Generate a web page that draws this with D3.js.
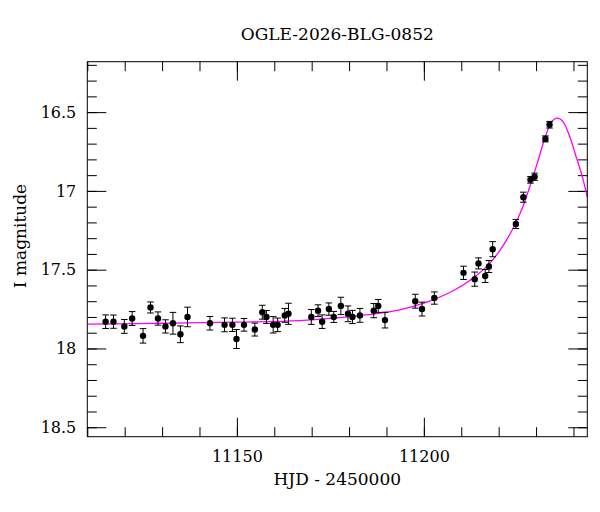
<!DOCTYPE html>
<html lang="en">
<head>
    <meta charset="UTF-8">
    <title>OGLE-2026-BLG-0852</title>
    <script src="https://d3js.org/d3.v7.min.js"></script>
    <style>
        body { margin: 0; background: #fff; }
        text { font-family: "DejaVu Serif", serif; fill: #000; }
        .tick line { stroke: #000; stroke-width: 1px; }
        .axis path.domain { display: none; }
        .frame { fill: none; stroke: #000; stroke-width: 1px; }
        .model { fill: none; stroke: #ff00ff; stroke-width: 1.3px; }
        .err { stroke: #000; stroke-width: 1px; }
    </style>
</head>
<body>
    <div id="chart"></div>
    <script>
        // photometry (HJD - 2450000, I mag, error)
        const days = [11114.9, 11117.0, 11119.9, 11122.0, 11124.9, 11126.9, 11128.9, 11130.9, 11132.9, 11134.9,
            11136.8, 11142.8, 11146.7, 11148.8, 11149.9, 11151.9, 11154.8, 11156.8, 11157.9, 11159.7,
            11160.9, 11162.8, 11163.8, 11169.9, 11171.7, 11172.8, 11174.6, 11175.9, 11177.8, 11179.7,
            11180.9, 11182.9, 11186.6, 11187.8, 11189.6, 11197.7, 11199.5, 11202.8, 11210.6, 11213.6,
            11214.6, 11216.4, 11217.4, 11218.4, 11224.6, 11226.6, 11228.5, 11229.6, 11232.5, 11233.6];
        const mags = [17.83, 17.83, 17.86, 17.81, 17.92, 17.74, 17.81, 17.86, 17.84, 17.91,
            17.80, 17.84, 17.85, 17.85, 17.94, 17.85, 17.88, 17.77, 17.80, 17.85,
            17.85, 17.79, 17.78, 17.80, 17.76, 17.83, 17.75, 17.80, 17.73, 17.78,
            17.80, 17.79, 17.76, 17.73, 17.82, 17.70, 17.75, 17.68, 17.52, 17.56,
            17.46, 17.54, 17.48, 17.37, 17.21, 17.04, 16.93, 16.91, 16.67, 16.58];
        const errs = [0.043, 0.042, 0.044, 0.044, 0.046, 0.035, 0.042, 0.042, 0.069, 0.053,
            0.062, 0.043, 0.044, 0.042, 0.060, 0.040, 0.041, 0.044, 0.041, 0.052,
            0.043, 0.044, 0.067, 0.047, 0.037, 0.043, 0.039, 0.035, 0.055, 0.050,
            0.042, 0.044, 0.045, 0.041, 0.050, 0.044, 0.044, 0.039, 0.042, 0.045,
            0.035, 0.041, 0.038, 0.048, 0.029, 0.032, 0.021, 0.023, 0.019, 0.021];

        // model light curve
        const modelDays = [11110, 11130, 11150, 11166.8, 11175.7, 11184.6, 11193.5, 11201.5, 11206.9, 11212.2,
            11217.6, 11221.1, 11223.8, 11226.3, 11228.5, 11230.5, 11232.7, 11234.1, 11235.6, 11237.2,
            11239.0, 11240.8, 11242.6, 11243.7];
        const modelMags = [17.846, 17.840, 17.833, 17.823, 17.808, 17.787, 17.755, 17.70, 17.645, 17.57,
            17.46, 17.35, 17.24, 17.11, 16.96, 16.81, 16.64, 16.565, 16.538, 16.56,
            16.655, 16.79, 16.93, 17.04];

        const xMajor = [11150, 11200];
        const xMinor = d3.range(11110, 11241, 10);
        const yMajor = [16.5, 17, 17.5, 18, 18.5];
        const yMinor = d3.range(162, 186).map(d => d / 10);

        const W = 600, H = 512;
        const margin = { top: 61.7, right: 12.7, bottom: 75.3, left: 87.3 };
        const width = W - margin.left - margin.right,
            height = H - margin.top - margin.bottom;

        const svg = d3.select("#chart").append("svg")
            .attr("width", W)
            .attr("height", H);

        const g = svg.append("g")
            .attr("transform", "translate(" + margin.left + "," + margin.top + ")");

        const x = d3.scaleLinear().domain([11110, 11243.7]).range([0, width]);
        const y = d3.scaleLinear().domain([16.18, 18.56]).range([0, height]);

        // ticks on all four sides, pointing in
        function addAxis(axisFn, scale, values, size, labels, transform, pad) {
            const a = axisFn(scale).tickValues(values).tickSize(-size).tickPadding(pad || 0);
            a.tickFormat(labels ? d3.format("") : "");
            g.append("g").attr("class", "axis").attr("transform", transform || null).call(a);
        }
        addAxis(d3.axisBottom, x, xMinor, 9.5, false, "translate(0," + height + ")");
        addAxis(d3.axisBottom, x, xMajor, 19, true, "translate(0," + height + ")", 14);
        addAxis(d3.axisTop, x, xMinor, 9.5, false, null);
        addAxis(d3.axisTop, x, xMajor, 19, false, null);
        addAxis(d3.axisLeft, y, yMinor, 9.5, false, null);
        addAxis(d3.axisLeft, y, yMajor, 19, true, null, 11);
        addAxis(d3.axisRight, y, yMinor, 9.5, false, "translate(" + width + ",0)");
        addAxis(d3.axisRight, y, yMajor, 19, false, "translate(" + width + ",0)");

        g.selectAll(".axis text").style("font-size", "16px").style("font-family", "'DejaVu Serif', serif");

        g.append("clipPath").attr("id", "clip")
            .append("rect").attr("width", width).attr("height", height);

        const model = modelDays.map((d, i) => [d, modelMags[i]]);
        g.append("path")
            .datum(model)
            .attr("class", "model")
            .attr("clip-path", "url(#clip)")
            .attr("d", d3.line()
                .x(d => x(d[0]))
                .y(d => y(d[1]))
                .curve(d3.curveMonotoneX));

        const pts = days.map((d, i) => ({ t: d, m: mags[i], e: errs[i] }));

        const bars = g.selectAll(".eb")
            .data(pts)
            .enter()
            .append("g")
            .attr("class", "eb");

        bars.append("line").attr("class", "err")
            .attr("x1", d => x(d.t)).attr("x2", d => x(d.t))
            .attr("y1", d => y(d.m - d.e)).attr("y2", d => y(d.m + d.e));
        bars.append("line").attr("class", "err")
            .attr("x1", d => x(d.t) - 3.3).attr("x2", d => x(d.t) + 3.3)
            .attr("y1", d => y(d.m - d.e)).attr("y2", d => y(d.m - d.e));
        bars.append("line").attr("class", "err")
            .attr("x1", d => x(d.t) - 3.3).attr("x2", d => x(d.t) + 3.3)
            .attr("y1", d => y(d.m + d.e)).attr("y2", d => y(d.m + d.e));
        bars.append("circle")
            .attr("cx", d => x(d.t))
            .attr("cy", d => y(d.m))
            .attr("r", 3.2)
            .attr("fill", "#000");

        g.append("rect").attr("class", "frame")
            .attr("width", width).attr("height", height);

        svg.append("text")
            .attr("x", margin.left + width / 2)
            .attr("y", 40)
            .attr("text-anchor", "middle")
            .style("font-size", "17px")
            .text("OGLE-2026-BLG-0852");

        svg.append("text")
            .attr("x", margin.left + width / 2)
            .attr("y", 485)
            .attr("text-anchor", "middle")
            .style("font-size", "17px")
            .text("HJD - 2450000");

        svg.append("text")
            .attr("transform", "translate(26,236) rotate(-90)")
            .attr("text-anchor", "middle")
            .style("font-size", "17px")
            .text("I magnitude");
    </script>
</body>
</html>
